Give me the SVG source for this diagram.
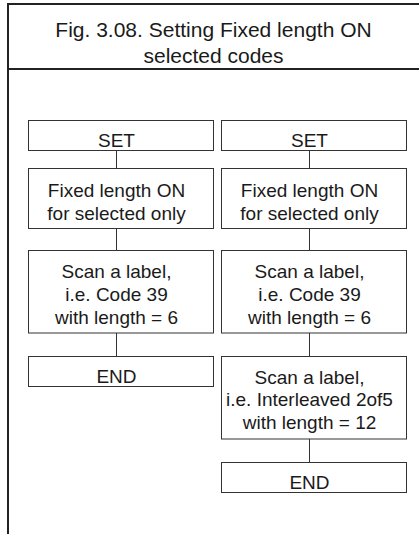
<svg xmlns="http://www.w3.org/2000/svg" width="419" height="534" viewBox="0 0 419 534">
<style>
.frame{fill:none;stroke:#222;stroke-width:2}
.box{fill:#fff;stroke:#333;stroke-width:1}
.conn{fill:none;stroke:#333;stroke-width:1}
text{font-family:"Liberation Sans",Arial,sans-serif;fill:#1a1a1a;text-anchor:middle}
.title{font-size:21px}
.lbl{font-size:19px}
</style>
<rect width="419" height="534" fill="#fff"/>
<g id="frame">
<path class="frame" d="M419 4 H8 V534 M8 69 H419"/>
</g>
<g id="title">
<text class="title" x="213.5" y="36.5">Fig. 3.08. Setting Fixed length ON</text>
<text class="title" x="213.5" y="63">selected codes</text>
</g>
<g id="connectors">
<path class="conn" d="M116.5 151 V168.5 M116.5 228.5 V250 M116.5 333 V356"/>
<path class="conn" d="M309.5 151 V168.5 M309.5 228.5 V250 M309.5 333 V356 M309.5 439 V462"/>
</g>
<g id="set-left">
<rect class="box" x="28.5" y="120.5" width="185" height="30"/>
<text class="lbl" x="116.5" y="147">SET</text>
</g>
<g id="fixed-left">
<rect class="box" x="28.5" y="168.5" width="185" height="60"/>
<text class="lbl" x="116.5" y="196.5">Fixed length ON</text>
<text class="lbl" x="116.5" y="219.5">for selected only</text>
</g>
<g id="scan-left">
<rect class="box" x="28.5" y="250.5" width="185" height="82.5"/>
<text class="lbl" x="116.5" y="277.5">Scan a label,</text>
<text class="lbl" x="116.5" y="300.5">i.e. Code 39</text>
<text class="lbl" x="116.5" y="323.5">with length = 6</text>
</g>
<g id="end-left">
<rect class="box" x="28.5" y="356.5" width="185" height="30"/>
<text class="lbl" x="116.5" y="383">END</text>
</g>
<g id="set-right">
<rect class="box" x="221.5" y="120.5" width="185" height="30"/>
<text class="lbl" x="309.5" y="147">SET</text>
</g>
<g id="fixed-right">
<rect class="box" x="221.5" y="168.5" width="185" height="60"/>
<text class="lbl" x="309.5" y="196.5">Fixed length ON</text>
<text class="lbl" x="309.5" y="219.5">for selected only</text>
</g>
<g id="scan-right">
<rect class="box" x="221.5" y="250.5" width="185" height="82.5"/>
<text class="lbl" x="309.5" y="277.5">Scan a label,</text>
<text class="lbl" x="309.5" y="300.5">i.e. Code 39</text>
<text class="lbl" x="309.5" y="323.5">with length = 6</text>
</g>
<g id="scan2-right">
<rect class="box" x="221.5" y="356.5" width="185" height="82.5"/>
<text class="lbl" x="309.5" y="383.5">Scan a label,</text>
<text class="lbl" x="309.5" y="406">i.e. Interleaved 2of5</text>
<text class="lbl" x="309.5" y="428.5">with length = 12</text>
</g>
<g id="end-right">
<rect class="box" x="221.5" y="462.5" width="185" height="30"/>
<text class="lbl" x="309.5" y="489">END</text>
</g>
</svg>
